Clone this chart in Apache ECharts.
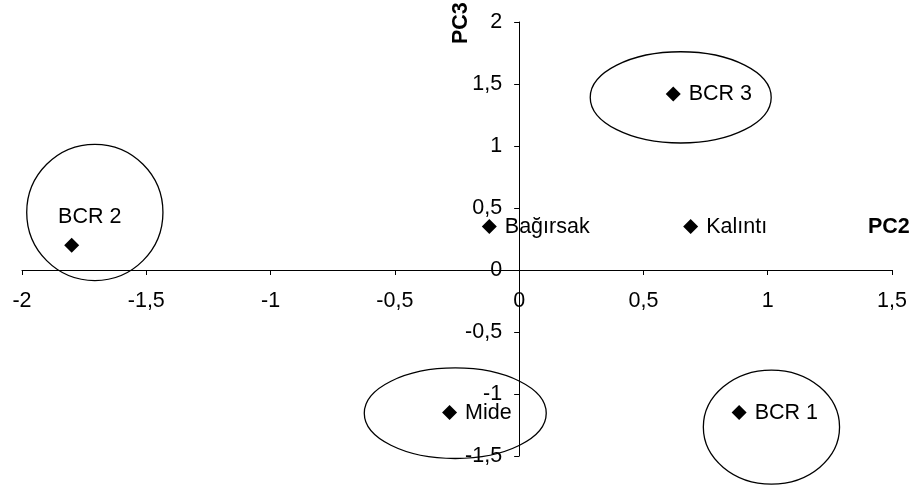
<!DOCTYPE html>
<html>
<head>
<meta charset="utf-8">
<script src="https://cdn.jsdelivr.net/npm/echarts@6/dist/echarts.min.js"></script>
<style>
  html, body { margin: 0; padding: 0; background: #fff; }
  #chart { width: 919px; height: 485px; }
</style>
</head>
<body>
<div id="chart"></div>
<script>
// Sample scores on the second and third principal components
const sampleNames = ['BCR 1', 'BCR 2', 'BCR 3', 'Mide', 'Bağırsak', 'Kalıntı'];
const pc2Scores = [0.885, -1.80, 0.62, -0.28, -0.12, 0.69];
const pc3Scores = [-1.15, 0.20, 1.42, -1.15, 0.35, 0.35];

// Axis ranges
const pc2Range = [-2, 1.5];
const pc3Range = [-1.5, 2];
const tickStep = 0.5;

// Group outlines: centre (PC2, PC3) and half-widths in axis units
const groupCx = [1.015, -1.707, 0.650, -0.257];
const groupCy = [-1.267, 0.464, 1.392, -1.155];
const groupRx = [0.274, 0.274, 0.364, 0.366];
const groupRy = [0.460, 0.549, 0.368, 0.365];

const fmt = v => String(v).replace('.', ',');
const FONT = 'Liberation Sans, Arial, sans-serif';
const FS = 21.5;

const W = 919, H = 485;
const grid = { left: 22, right: 27, top: 22, bottom: 29 };
const gridW = W - grid.left - grid.right;
const gridH = H - grid.top - grid.bottom;

// Axes cross at zero: shift each axis from the grid edge to the zero line
const xAxisShift = -gridH * (0 - pc3Range[0]) / (pc3Range[1] - pc3Range[0]);
const yAxisShift = -gridW * (0 - pc2Range[0]) / (pc2Range[1] - pc2Range[0]);

const points = sampleNames.map((n, i) => {
  const p = { name: n, value: [pc2Scores[i], pc3Scores[i]] };
  if (n === 'BCR 2') {
    p.label = { position: 'top', distance: 10, offset: [18, 0] };
  }
  return p;
});

const groups = groupCx.map((c, i) => [c, groupCy[i], groupRx[i], groupRy[i]]);

const chart = echarts.init(document.getElementById('chart'));
chart.setOption({
  animation: false,
  backgroundColor: '#fff',
  textStyle: { fontFamily: FONT },
  grid: Object.assign({ containLabel: false, outerBoundsMode: 'none' }, grid),
  xAxis: {
    type: 'value', min: pc2Range[0], max: pc2Range[1], interval: tickStep,
    position: 'bottom', offset: xAxisShift,
    axisLine: { onZero: false, lineStyle: { color: '#000', width: 1 } },
    axisTick: { show: true, length: 5, lineStyle: { color: '#000' } },
    axisLabel: { color: '#000', fontSize: FS, margin: 20, formatter: fmt, fontFamily: FONT },
    splitLine: { show: false }
  },
  yAxis: {
    type: 'value', min: pc3Range[0], max: pc3Range[1], interval: tickStep,
    position: 'left', offset: yAxisShift,
    axisLine: { onZero: false, lineStyle: { color: '#000', width: 1 } },
    axisTick: { show: true, length: 5, lineStyle: { color: '#000' } },
    axisLabel: { color: '#000', fontSize: FS, margin: 17, formatter: fmt, fontFamily: FONT },
    splitLine: { show: false }
  },
  graphic: [
    { type: 'text', left: 868, top: 216,
      style: { text: 'PC2', fontSize: FS, fontWeight: 'bold', fill: '#000', fontFamily: FONT } },
    { type: 'text', x: 450, y: 44, rotation: Math.PI / 2,
      style: { text: 'PC3', fontSize: FS, fontWeight: 'bold', fill: '#000', fontFamily: FONT } }
  ],
  series: [
    {
      type: 'custom',
      clip: false,
      silent: true,
      data: groups,
      renderItem: function (params, api) {
        const c = api.coord([api.value(0), api.value(1)]);
        const s = api.size([api.value(2), api.value(3)]);
        return {
          type: 'ellipse',
          shape: { cx: c[0], cy: c[1], rx: s[0], ry: s[1] },
          style: { fill: 'none', stroke: '#000', lineWidth: 1.3 }
        };
      },
      z: 1
    },
    {
      type: 'scatter',
      symbol: 'diamond',
      symbolSize: 15,
      itemStyle: { color: '#000', opacity: 1 },
      label: {
        show: true, position: 'right', distance: 8,
        formatter: '{b}', color: '#000', fontSize: FS, fontFamily: FONT
      },
      data: points,
      z: 3
    }
  ]
});
</script>
</body>
</html>
